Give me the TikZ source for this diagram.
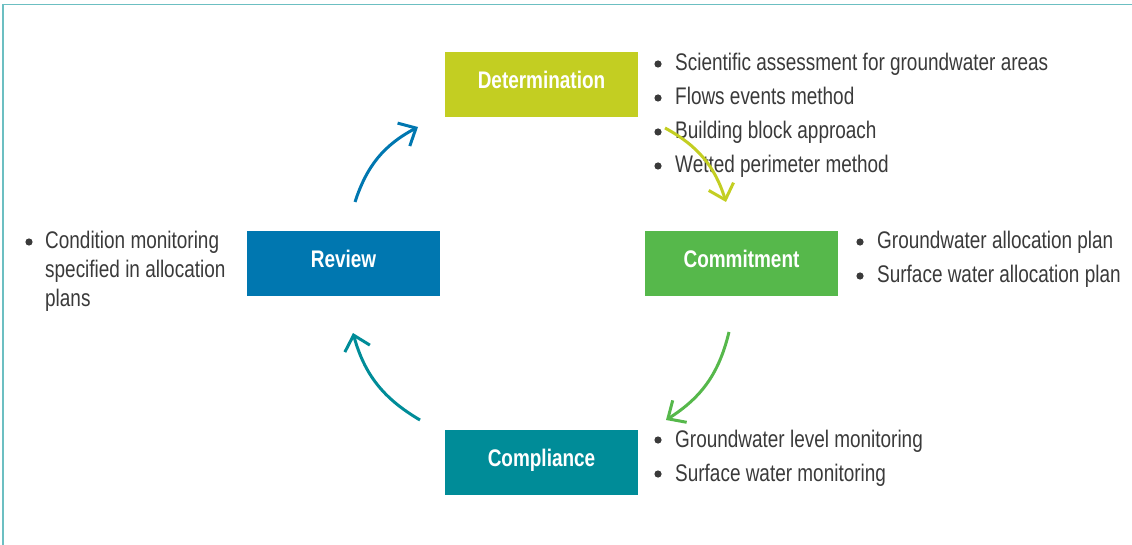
\documentclass[tikz,border=0pt]{standalone}
\usepackage{fontspec}
\setmainfont{Liberation Sans}[FakeStretch=0.79]
\usepackage{xcolor}
\usepackage{tikz}
\usetikzlibrary{arrows.meta}
\usetikzlibrary{positioning}

\definecolor{detcol}{HTML}{C3CE22}
\definecolor{comcol}{HTML}{56B84B}
\definecolor{cplcol}{HTML}{008C98}
\definecolor{revcol}{HTML}{0077B0}
\definecolor{framecol}{HTML}{6CBFC2}
\definecolor{txtcol}{HTML}{3A3A3A}

\tikzset{
  stagebox/.style={minimum width=193pt, minimum height=65pt, inner sep=0pt,
    text=white, font=\fontsize{24}{28}\selectfont\bfseries,
    text height=17pt, text depth=8pt},
  itemtext/.style={anchor=base west, inner sep=0pt, text=txtcol,
    font=\fontsize{24}{28}\selectfont},
  cyclearrow/.style={line width=3pt,
    -{Straight Barb[length=14pt,width=26pt,line width=3pt]}},
}

\begin{document}
\begin{tikzpicture}[x=1pt, y=-1pt]
    \useasboundingbox (0,0) rectangle (1132,545);
    \draw[framecol, line width=1.5pt] (3,545) -- (3,4.5) -- (1132,4.5);

    % the four stages
    \node[stagebox, fill=detcol] (det) at (541.5,84.5) {Determination};
    \node[stagebox, fill=comcol] (com) at (741.5,263.5) {Commitment};
    \node[stagebox, fill=cplcol] (cpl) at (541.5,462) {Compliance};
    \node[stagebox, fill=revcol] (rev) at (343.5,263.5) {Review};

    % lists
    \begin{scope}[txtcol]
    \fill (658,64) circle (3.6);
    \node[itemtext] (det1) at (675,71) {Scientific assessment for groundwater areas};
    \fill (658,98) circle (3.6);
    \node[itemtext] (det2) at (675,105) {Flows events method};
    \fill (658,132) circle (3.6);
    \node[itemtext] (det3) at (675,139) {Building block approach};
    \fill (658,166) circle (3.6);
    \node[itemtext] (det4) at (675,173) {Wetted perimeter method};

    \fill (860,242) circle (3.6);
    \node[itemtext] (com1) at (877,249) {Groundwater allocation plan};
    \fill (860,276) circle (3.6);
    \node[itemtext] (com2) at (877,283) {Surface water allocation plan};

    \fill (658,440) circle (3.6);
    \node[itemtext] (cpl1) at (675,447) {Groundwater level monitoring};
    \fill (658,474) circle (3.6);
    \node[itemtext] (cpl2) at (675,481) {Surface water monitoring};

    \fill (29,242) circle (3.6);
    \node[itemtext] (rev1) at (45,249) {Condition monitoring};
    \node[itemtext] (rev2) at (45,278) {specified in allocation};
    \node[itemtext] (rev3) at (45,306) {plans};
    \end{scope}

    % arrows round the cycle
    \coordinate (a1s) at (355,202);
    \coordinate (a1e) at (418,127);
    \coordinate (a2s) at (665,128);
    \coordinate (a2e) at (726,202);
    \coordinate (a3s) at (729,332);
    \coordinate (a3e) at (666,420);
    \coordinate (a4s) at (420,420);
    \coordinate (a4e) at (353,333);
    \draw[cyclearrow, revcol] (a1s) to[bend left=22] (a1e);
    \draw[cyclearrow, detcol] (a2s) to[bend left=22] (a2e);
    \draw[cyclearrow, comcol] (a3s) to[bend left=22] (a3e);
    \draw[cyclearrow, cplcol] (a4s) to[bend left=22] (a4e);
\end{tikzpicture}
\end{document}
